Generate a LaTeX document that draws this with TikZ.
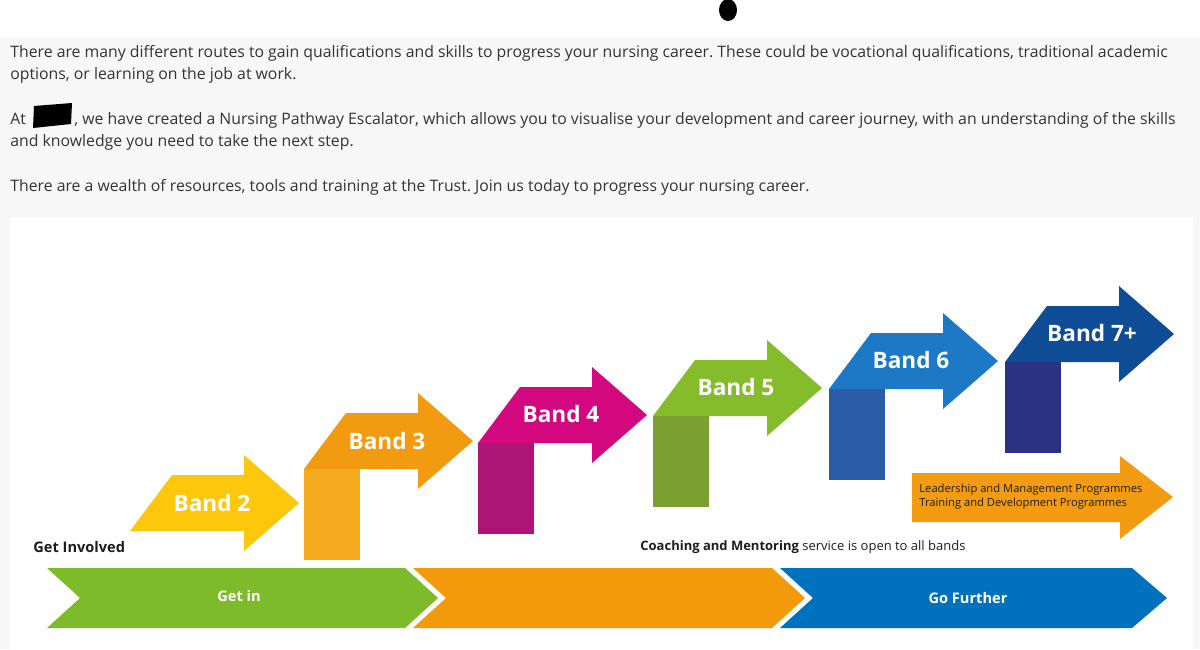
\documentclass[tikz,border=0pt]{standalone}
\usepackage{fontspec}
\setmainfont{Open Sans}
\usepackage{tkz-euclide}
\frenchspacing
\definecolor{PageClr}{rgb}{0.969,0.969,0.969}
\definecolor{TextClr}{rgb}{0.2,0.2,0.2}
\definecolor{InkClr}{rgb}{0.114,0.114,0.106}
\definecolor{YellowClr}{rgb}{0.992,0.780,0.047}
\definecolor{OrangeClr}{rgb}{0.953,0.608,0.063}
\definecolor{OrangeRectClr}{rgb}{0.965,0.667,0.118}
\definecolor{PinkClr}{rgb}{0.831,0.031,0.494}
\definecolor{PinkRectClr}{rgb}{0.686,0.078,0.467}
\definecolor{LimeClr}{rgb}{0.522,0.737,0.169}
\definecolor{LimeRectClr}{rgb}{0.482,0.624,0.188}
\definecolor{SkyClr}{rgb}{0.114,0.475,0.776}
\definecolor{SkyRectClr}{rgb}{0.165,0.357,0.651}
\definecolor{NavyClr}{rgb}{0.055,0.298,0.588}
\definecolor{NavyRectClr}{rgb}{0.165,0.196,0.514}
\definecolor{GreenBarClr}{rgb}{0.490,0.733,0.165}
\definecolor{OrangeBarClr}{rgb}{0.953,0.604,0.043}
\definecolor{BlueBarClr}{rgb}{0.0,0.443,0.737}
\definecolor{ProgClr}{rgb}{0.953,0.612,0.071}

\begin{document}
\begin{tikzpicture}[x=0.5pt,y=-0.5pt,
  para/.style={font=\fontsize{7.9}{10}\selectfont,text=TextClr,inner sep=0pt,anchor=base west},
  bandtxt/.style={font=\fontsize{11.3}{13}\selectfont\bfseries,text=white,inner sep=0pt},
  bartxt/.style={font=\fontsize{7.3}{9}\selectfont\bfseries,text=white,inner sep=0pt},
  notetxt/.style={font=\fontsize{6.5}{8}\selectfont,text=InkClr,inner sep=0pt,anchor=west}]
\useasboundingbox (0,0) rectangle (1200,649);
\fill[PageClr] (0,37) rectangle (1200,649);
\fill[white] (10,217) rectangle (1193,649);
\fill[black] (728,10) ellipse [x radius=9,y radius=11];

\node[para] (p1a) at (10,57) {There are many different routes to gain qualifications and skills to progress your nursing career. These could be vocational qualifications, traditional academic};
\node[para] (p1b) at (10,79.5) {options, or learning on the job at work.};
\node[para] (p2at) at (10,124) {At};
\fill[black] (34,106) -- (72,103) -- (71,124) -- (33,128) -- cycle;
\node[para] (p2a) at (74,124) {, we have created a Nursing Pathway Escalator, which allows you to visualise your development and career journey, with an understanding of the skills};
\node[para] (p2b) at (10,146.5) {and knowledge you need to take the next step.};
\node[para] (p3) at (10,191) {There are a wealth of resources, tools and training at the Trust. Join us today to progress your nursing career.};

\tkzDefPoints{130/531/P2,304/469/P3,478/443/P4,653/416/P5,829/389/P6,1005/362/P7}

\fill[OrangeRectClr] (P3) rectangle ++(56,91);
\fill[PinkRectClr] (P4) rectangle ++(56,91);
\fill[LimeRectClr] (P5) rectangle ++(56,91);
\fill[SkyRectClr] (P6) rectangle ++(56,91);
\fill[NavyRectClr] (P7) rectangle ++(56,91);

\fill[YellowClr] (P2) -- ++(42,-56) -- ++(72,0) -- ++(0,-20) -- ++(55,48) -- ++(-55,48) -- ++(0,-20) -- cycle;
\fill[OrangeClr] (P3) -- ++(42,-56) -- ++(72,0) -- ++(0,-20) -- ++(55,48) -- ++(-55,48) -- ++(0,-20) -- cycle;
\fill[PinkClr] (P4) -- ++(42,-56) -- ++(72,0) -- ++(0,-20) -- ++(55,48) -- ++(-55,48) -- ++(0,-20) -- cycle;
\fill[LimeClr] (P5) -- ++(42,-56) -- ++(72,0) -- ++(0,-20) -- ++(55,48) -- ++(-55,48) -- ++(0,-20) -- cycle;
\fill[SkyClr] (P6) -- ++(42,-56) -- ++(72,0) -- ++(0,-20) -- ++(55,48) -- ++(-55,48) -- ++(0,-20) -- cycle;
\fill[NavyClr] (P7) -- ++(42,-56) -- ++(72,0) -- ++(0,-20) -- ++(55,48) -- ++(-55,48) -- ++(0,-20) -- cycle;

\node[bandtxt] (b2) at (212,503) {Band 2};
\node[bandtxt] (b3) at (387,441) {Band 3};
\node[bandtxt] (b4) at (561,414) {Band 4};
\node[bandtxt] (b5) at (736,387) {Band 5};
\node[bandtxt] (b6) at (911,360) {Band 6};
\node[bandtxt] (b7) at (1092,333) {Band 7+};

\fill[ProgClr] (912,473) -- (1120,473) -- (1120,456) -- (1173,497) -- (1120,539) -- (1120,522) -- (912,522) -- cycle;
\node[notetxt,font=\fontsize{5.6}{7}\selectfont,align=left] (prog) at (919,497) {Leadership and Management Programmes\\Training and Development Programmes};

\node[notetxt,font=\fontsize{7.3}{9}\selectfont\bfseries] (inv) at (33,547) {Get Involved};
\node[notetxt] (coach) at (640,547) {\textbf{Coaching and Mentoring} service is open to all bands};

\fill[GreenBarClr] (47,568) -- (405,568) -- (438,598) -- (405,628) -- (47,628) -- (80,598) -- cycle;
\fill[OrangeBarClr] (413,568) -- (772,568) -- (805,598) -- (772,628) -- (413,628) -- (446,598) -- cycle;
\fill[BlueBarClr] (780,568) -- (1132,568) -- (1167,598) -- (1132,628) -- (780,628) -- (813,598) -- cycle;

\node[bartxt] (getin) at (239,596) {Get in};
\node[bartxt] (further) at (968,598) {Go Further};

\end{tikzpicture}
\end{document}
